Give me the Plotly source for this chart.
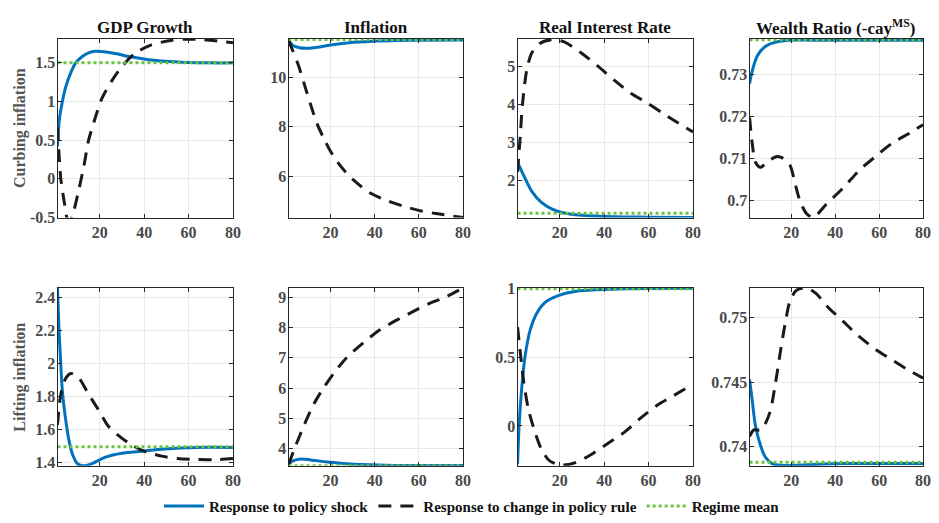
import plotly.graph_objects as go

W, H = 939, 523

# ---------------- data ----------------
panel_titles = ["GDP Growth", "Inflation", "Real Interest Rate", "Wealth Ratio (-cay<sup>MS</sup>)"]
row_titles = ["Curbing inflation", "Lifting inflation"]
legend_names = ["Response to policy shock", "Response to change in policy rule", "Regime mean"]
x_ticks = [20, 40, 60, 80]
horizon = [1, 80]

# Row 1: curbing inflation
gdp_c_shock_t = [1, 1.75, 3.2, 4.7, 7, 9.2, 12, 15, 18, 22, 27, 34.5, 42, 49, 60, 70, 80]
gdp_c_shock_v = [0.42, 0.75, 1.0, 1.19, 1.375, 1.50, 1.58, 1.63, 1.65, 1.645, 1.62, 1.575, 1.54, 1.52, 1.505, 1.50, 1.50]
gdp_c_rule_t = [1, 1.74, 2.49, 3.98, 5.46, 6.5, 8.44, 10.7, 12.9, 15, 18, 21, 25.5, 30.8, 36, 43, 52, 58, 67, 80]
gdp_c_rule_v = [0.67, 0.29, 0.0, -0.29, -0.52, -0.55, -0.4, -0.125, 0.167, 0.5, 0.79, 1.04, 1.27, 1.48, 1.625, 1.73, 1.79, 1.805, 1.80, 1.76]
gdp_c_mean = 1.5

inf_c_shock_t = [1, 3, 6, 9.6, 14, 20, 30.5, 41, 50, 60, 80]
inf_c_shock_v = [11.5, 11.28, 11.19, 11.17, 11.21, 11.3, 11.41, 11.47, 11.49, 11.5, 11.51]
inf_c_rule_t = [1, 3, 5.2, 8.2, 11, 14, 17, 20, 24.5, 30.5, 38, 45.4, 53, 60, 67.8, 80]
inf_c_rule_v = [11.5, 11.05, 10.55, 9.7, 8.89, 8.1, 7.52, 7.0, 6.41, 5.83, 5.31, 5.01, 4.78, 4.61, 4.48, 4.32]
inf_c_mean = 11.53

rir_c_shock_t = [1, 4.4, 7.4, 11.9, 16.3, 22, 29.7, 44.6, 59.5, 80]
rir_c_shock_v = [2.48, 2.06, 1.72, 1.42, 1.26, 1.15, 1.09, 1.05, 1.04, 1.03]
rir_c_rule_t = [1, 2.2, 3.2, 5.2, 7.4, 11, 16.3, 22, 29.7, 37, 44.6, 52, 59.5, 67, 80]
rir_c_rule_v = [2.23, 3.16, 4.0, 4.93, 5.36, 5.61, 5.71, 5.65, 5.36, 5.02, 4.64, 4.30, 4.04, 3.75, 3.28]
rir_c_mean = 1.14

wr_c_shock_t = [1, 2, 4.5, 8.2, 13.5, 19.5, 30, 80]
wr_c_shock_v = [0.7279, 0.7305, 0.7345, 0.7368, 0.7379, 0.7383, 0.7383, 0.7383]
wr_c_rule_t = [1, 2.2, 3.7, 6, 9, 13.5, 16.5, 19.5, 21.7, 24, 27, 30, 36, 43.5, 51, 58.6, 66, 73.6, 80]
wr_c_rule_v = [0.7198, 0.7137, 0.7091, 0.7079, 0.7092, 0.7105, 0.7100, 0.7083, 0.7041, 0.6998, 0.6968, 0.6959, 0.6991, 0.7029, 0.7072, 0.7106, 0.7137, 0.716, 0.7181]
wr_c_mean = 0.7384

# Row 2: lifting inflation
gdp_l_shock_t = [1, 1.74, 2.5, 3.2, 4.7, 6.2, 7.7, 9.9, 12.9, 16.6, 22.6, 30, 39, 49, 64, 80]
gdp_l_shock_v = [2.46, 2.185, 1.99, 1.83, 1.656, 1.53, 1.45, 1.392, 1.379, 1.392, 1.431, 1.455, 1.467, 1.48, 1.49, 1.49]
gdp_l_rule_t = [1, 2.5, 4.7, 7, 10.7, 15, 19.6, 24, 28.5, 34.5, 40.4, 48, 55, 64, 73, 80]
gdp_l_rule_v = [1.627, 1.813, 1.91, 1.94, 1.91, 1.813, 1.715, 1.617, 1.562, 1.504, 1.465, 1.437, 1.422, 1.416, 1.416, 1.422]
gdp_l_mean = 1.494

inf_l_shock_t = [1, 3, 6.7, 11, 18.6, 27.5, 38, 50, 80]
inf_l_shock_v = [3.49, 3.6, 3.66, 3.63, 3.56, 3.5, 3.47, 3.45, 3.45]
inf_l_rule_t = [1, 3.7, 8.2, 12.6, 17, 21.6, 27.5, 35, 42.4, 49.9, 57.3, 64.8, 72, 80]
inf_l_rule_v = [3.47, 4.0, 4.8, 5.49, 6.02, 6.5, 7.02, 7.5, 7.92, 8.24, 8.52, 8.79, 9.0, 9.30]
inf_l_mean = 3.44

rir_l_shock_t = [1, 1.7, 2.9, 4.4, 6.7, 9.6, 13.4, 19.3, 26.7, 37, 50, 80]
rir_l_shock_v = [-0.28, 0.0, 0.28, 0.51, 0.70, 0.82, 0.90, 0.95, 0.98, 0.993, 1.0, 1.003]
rir_l_rule_t = [1, 2.2, 3.7, 5.9, 8.9, 11.9, 15.6, 20.8, 26.7, 34, 41.6, 49, 56.5, 64, 71.4, 80]
rir_l_rule_v = [0.72, 0.54, 0.33, 0.12, -0.047, -0.175, -0.257, -0.285, -0.27, -0.21, -0.128, -0.047, 0.058, 0.152, 0.222, 0.304]
rir_l_mean = 1.0

wr_l_shock_t = [1, 2.2, 3.7, 6, 8.2, 11.2, 16.5, 25.5, 43.6, 60, 80]
wr_l_shock_v = [0.7452, 0.7436, 0.7416, 0.7401, 0.7392, 0.7387, 0.73855, 0.7386, 0.7387, 0.7387, 0.7387]
wr_l_rule_t = [1, 3, 6, 8.2, 10.5, 12.7, 15, 17.2, 19.5, 22.5, 27, 31.5, 36, 43.5, 51, 58.6, 66, 73.6, 80]
wr_l_rule_v = [0.7408, 0.7413, 0.7413, 0.7418, 0.7428, 0.7448, 0.7473, 0.7495, 0.7513, 0.7521, 0.75226, 0.7518, 0.7509, 0.7497, 0.7485, 0.7475, 0.7467, 0.7459, 0.7453]
wr_l_mean = 0.7388

panels = [
    (gdp_c_shock_t, gdp_c_shock_v, gdp_c_rule_t, gdp_c_rule_v, gdp_c_mean),
    (inf_c_shock_t, inf_c_shock_v, inf_c_rule_t, inf_c_rule_v, inf_c_mean),
    (rir_c_shock_t, rir_c_shock_v, rir_c_rule_t, rir_c_rule_v, rir_c_mean),
    (wr_c_shock_t, wr_c_shock_v, wr_c_rule_t, wr_c_rule_v, wr_c_mean),
    (gdp_l_shock_t, gdp_l_shock_v, gdp_l_rule_t, gdp_l_rule_v, gdp_l_mean),
    (inf_l_shock_t, inf_l_shock_v, inf_l_rule_t, inf_l_rule_v, inf_l_mean),
    (rir_l_shock_t, rir_l_shock_v, rir_l_rule_t, rir_l_rule_v, rir_l_mean),
    (wr_l_shock_t, wr_l_shock_v, wr_l_rule_t, wr_l_rule_v, wr_l_mean),
]

y_ticks = [
    [-0.5, 0, 0.5, 1, 1.5], [6, 8, 10], [2, 3, 4, 5], [0.70, 0.71, 0.72, 0.73],
    [1.4, 1.6, 1.8, 2.0, 2.2, 2.4], [4, 5, 6, 7, 8, 9], [0, 0.5, 1], [0.740, 0.745, 0.750],
]
y_tick_text = [
    ["-0.5", "0", "0.5", "1", "1.5"], ["6", "8", "10"], ["2", "3", "4", "5"], ["0.7", "0.71", "0.72", "0.73"],
    ["1.4", "1.6", "1.8", "2", "2.2", "2.4"], ["4", "5", "6", "7", "8", "9"], ["0", "0.5", "1"], ["0.74", "0.745", "0.75"],
]

# ---------------- styling / layout ----------------
y_ranges = [
    [-0.5, 1.81], [4.32, 11.55], [1.03, 5.73], [0.6959, 0.7386],
    [1.379, 2.459], [3.44, 9.30], [-0.29, 1.005], [0.73854, 0.75226],
]
col_px = [(58, 235), (291, 467), (522, 699), (756, 931)]
row_px = [(32, 217), (290, 474)]

BLUE = "#0072BD"
BLACK = "#1a1a1a"
GREEN = "#68c43f"
FONT = "Liberation Serif, Times New Roman, serif"
TICK_COLOR = "#4a4a4a"

fig = go.Figure()
layout_axes = {}
for i, (st, sv, rt, rv, mean) in enumerate(panels):
    r, c = divmod(i, 4)
    n = i + 1
    xa = "x" if n == 1 else f"x{n}"
    ya = "y" if n == 1 else f"y{n}"
    show = (i == 0)
    fig.add_trace(go.Scatter(x=st, y=sv, xaxis=xa, yaxis=ya, mode="lines", name=legend_names[0],
                             legendgroup="a", showlegend=show,
                             line=dict(color=BLUE, width=3, shape="spline", smoothing=0.8)))
    fig.add_trace(go.Scatter(x=rt, y=rv, xaxis=xa, yaxis=ya, mode="lines", name=legend_names[1],
                             legendgroup="b", showlegend=show,
                             line=dict(color=BLACK, width=3, dash="13px,9px", shape="spline", smoothing=0.8)))
    fig.add_trace(go.Scatter(x=horizon, y=[mean, mean], xaxis=xa, yaxis=ya, mode="lines", name=legend_names[2],
                             legendgroup="c", showlegend=show,
                             line=dict(color=GREEN, width=3, dash="dot")))
    x0, x1 = col_px[c]
    y0, y1 = row_px[r]
    common = dict(showline=True, mirror="ticks", linecolor="#262626", linewidth=1,
                  ticks="inside", ticklen=4, tickcolor="#262626",
                  showgrid=True, gridcolor="#e8e8e8", gridwidth=1, zeroline=False,
                  tickfont=dict(family=FONT, size=16, weight="bold", color=TICK_COLOR))
    layout_axes[("xaxis" if n == 1 else f"xaxis{n}")] = dict(
        domain=[x0 / W, x1 / W], anchor=ya, range=horizon, tickvals=x_ticks,
        ticktext=[str(v) for v in x_ticks], **common)
    layout_axes[("yaxis" if n == 1 else f"yaxis{n}")] = dict(
        domain=[1 - y1 / H, 1 - y0 / H], anchor=xa, range=y_ranges[i],
        tickvals=y_ticks[i], ticktext=y_tick_text[i], ticklabelstandoff=-2, **common)

fig.update_layout(**layout_axes)

annotations = []
for c, t in enumerate(panel_titles):
    x0, x1 = col_px[c]
    annotations.append(dict(text=t, x=(x0 + x1) / 2 / W, y=1 - 20 / H, xref="paper", yref="paper",
                            xanchor="center", yanchor="middle", showarrow=False,
                            font=dict(family=FONT, size=17, weight="bold", color="#111111")))
for r, t in enumerate(row_titles):
    y0, y1 = row_px[r]
    annotations.append(dict(text=t, x=20 / W, y=1 - ((y0 + y1) / 2) / H, xref="paper", yref="paper",
                            xanchor="center", yanchor="middle", showarrow=False, textangle=-90,
                            font=dict(family=FONT, size=16, weight="bold", color="#555555")))

fig.update_layout(
    width=W, height=H, margin=dict(l=0, r=0, t=0, b=0),
    font=dict(family=FONT, weight="bold"),
    paper_bgcolor="white", plot_bgcolor="white",
    annotations=annotations,
    showlegend=True,
    legend=dict(orientation="h", x=476 / W, xanchor="center", y=1 - 516 / H, yanchor="middle",
                font=dict(family=FONT, size=15, weight="bold", color="#111111"),
                bgcolor="rgba(0,0,0,0)", itemwidth=40, tracegroupgap=0),
)

fig.write_html("out.html")
